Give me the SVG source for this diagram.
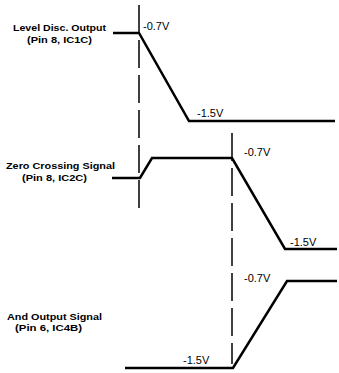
<svg xmlns="http://www.w3.org/2000/svg" width="339" height="373" viewBox="0 0 339 373">
<style>
.wave{fill:none;stroke:#000;stroke-width:2.5;stroke-linejoin:miter}
.dash{fill:none;stroke:#000;stroke-width:1.5;stroke-dasharray:28,7}
.lbl{font-family:"Liberation Sans",Arial,sans-serif;font-weight:bold;font-size:8.5px;fill:#000}
.v{font-family:"Liberation Sans",Arial,sans-serif;font-size:11px;fill:#000}
</style>
<rect width="339" height="373" fill="#fff"/>
<g id="connectors">
<line class="dash" x1="139" y1="5" x2="139" y2="212"/>
<line class="dash" x1="232" y1="133" x2="232" y2="364"/>
</g>
<g id="level-disc">
<text class="lbl" x="13" y="31" textLength="93" lengthAdjust="spacingAndGlyphs">Level Disc. Output</text>
<text class="lbl" x="27" y="43" textLength="65" lengthAdjust="spacingAndGlyphs">(Pin 8, IC1C)</text>
<polyline class="wave" points="113,33 139,33 189,121 335,121"/>
<text class="v" x="143" y="30">-0.7V</text>
<text class="v" x="197" y="117">-1.5V</text>
</g>
<g id="zero-crossing">
<text class="lbl" x="6" y="169" textLength="109" lengthAdjust="spacingAndGlyphs">Zero Crossing Signal</text>
<text class="lbl" x="22" y="181" textLength="65" lengthAdjust="spacingAndGlyphs">(Pin 8, IC2C)</text>
<polyline class="wave" points="112,178 140,178 152,158 232,158 285,249 337,249"/>
<text class="v" x="244" y="156">-0.7V</text>
<text class="v" x="290" y="246">-1.5V</text>
</g>
<g id="and-output">
<text class="lbl" x="7" y="320" textLength="95" lengthAdjust="spacingAndGlyphs">And Output Signal</text>
<text class="lbl" x="15" y="331" textLength="67" lengthAdjust="spacingAndGlyphs">(Pin 6, IC4B)</text>
<polyline class="wave" points="125,368 233,368 287,281 337,281"/>
<text class="v" x="244" y="282">-0.7V</text>
<text class="v" x="183" y="364">-1.5V</text>
</g>
</svg>
